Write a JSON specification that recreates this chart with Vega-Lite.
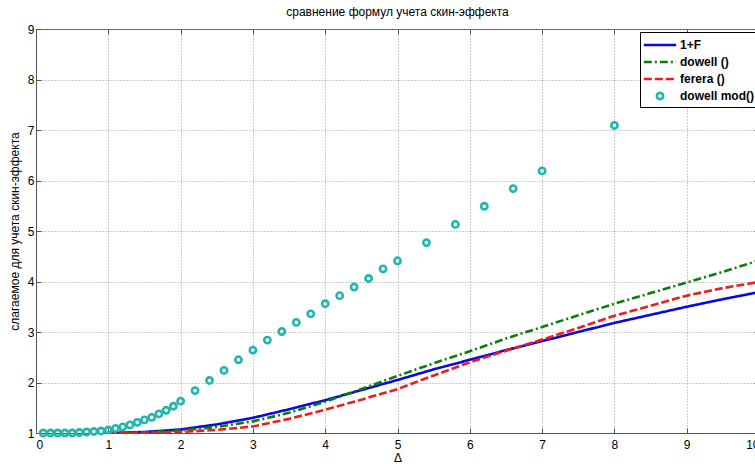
{
  "$schema": "https://vega.github.io/schema/vega-lite/v6.json",
  "autosize": {"type": "none"},
  "padding": {"left": 36, "top": 29, "right": 0, "bottom": 30},
  "width": 723,
  "height": 404,
  "background": "white",
  "title": {"text": "сравнение формул учета скин-эффекта", "fontSize": 12, "fontWeight": "normal", "font": "Liberation Sans", "offset": 4, "anchor": "middle", "color": "black"},
  "config": {
    "font": "Liberation Sans",
    "view": {"stroke": "#555", "strokeWidth": 1},
    "axis": {
      "domainColor": "#555", "tickColor": "#555", "tickSize": -5,
      "gridColor": "#999", "gridDash": [1, 2], "gridWidth": 1,
      "labelFont": "Liberation Sans", "labelFontSize": 12, "labelColor": "black",
      "titleFont": "Liberation Sans", "titleFontSize": 12, "titleFontWeight": "normal", "titleColor": "black"
    },
    "legend": {
      "orient": "top-right", "offset": 3,
      "strokeColor": "black", "fillColor": "white", "padding": 2,
      "rowPadding": 0, "symbolOffset": 7, "labelOffset": 9,
      "symbolStrokeWidth": 2.6, "symbolSize": 361,
      "labelFont": "Liberation Sans", "labelFontSize": 12, "labelFontWeight": "bold", "labelColor": "black"
    }
  },
  "data": {"values": [
    {"series": "1+F", "x": 1.0, "y": 1.0},
    {"series": "1+F", "x": 1.5, "y": 1.02},
    {"series": "1+F", "x": 2.0, "y": 1.07},
    {"series": "1+F", "x": 2.5, "y": 1.17},
    {"series": "1+F", "x": 3.0, "y": 1.30},
    {"series": "1+F", "x": 3.5, "y": 1.47},
    {"series": "1+F", "x": 4.0, "y": 1.65},
    {"series": "1+F", "x": 4.5, "y": 1.85},
    {"series": "1+F", "x": 5.0, "y": 2.05},
    {"series": "1+F", "x": 5.5, "y": 2.26},
    {"series": "1+F", "x": 6.0, "y": 2.45},
    {"series": "1+F", "x": 6.5, "y": 2.64},
    {"series": "1+F", "x": 7.0, "y": 2.82},
    {"series": "1+F", "x": 7.5, "y": 3.00},
    {"series": "1+F", "x": 8.0, "y": 3.18},
    {"series": "1+F", "x": 8.5, "y": 3.34},
    {"series": "1+F", "x": 9.0, "y": 3.50},
    {"series": "1+F", "x": 9.5, "y": 3.65},
    {"series": "1+F", "x": 10.0, "y": 3.79},
    {"series": "dowell ()", "x": 1.0, "y": 1.0},
    {"series": "dowell ()", "x": 1.5, "y": 1.01},
    {"series": "dowell ()", "x": 2.0, "y": 1.05},
    {"series": "dowell ()", "x": 2.5, "y": 1.12},
    {"series": "dowell ()", "x": 3.0, "y": 1.23},
    {"series": "dowell ()", "x": 3.5, "y": 1.40},
    {"series": "dowell ()", "x": 4.0, "y": 1.62},
    {"series": "dowell ()", "x": 4.5, "y": 1.87},
    {"series": "dowell ()", "x": 5.0, "y": 2.13},
    {"series": "dowell ()", "x": 5.5, "y": 2.38},
    {"series": "dowell ()", "x": 6.0, "y": 2.62},
    {"series": "dowell ()", "x": 6.5, "y": 2.87},
    {"series": "dowell ()", "x": 7.0, "y": 3.10},
    {"series": "dowell ()", "x": 7.5, "y": 3.33},
    {"series": "dowell ()", "x": 8.0, "y": 3.56},
    {"series": "dowell ()", "x": 8.5, "y": 3.77},
    {"series": "dowell ()", "x": 9.0, "y": 3.98},
    {"series": "dowell ()", "x": 9.5, "y": 4.19},
    {"series": "dowell ()", "x": 10.0, "y": 4.42},
    {"series": "ferera ()", "x": 1.0, "y": 1.0},
    {"series": "ferera ()", "x": 1.5, "y": 1.005},
    {"series": "ferera ()", "x": 2.0, "y": 1.02},
    {"series": "ferera ()", "x": 2.5, "y": 1.06},
    {"series": "ferera ()", "x": 3.0, "y": 1.13},
    {"series": "ferera ()", "x": 3.5, "y": 1.28},
    {"series": "ferera ()", "x": 4.0, "y": 1.46},
    {"series": "ferera ()", "x": 4.5, "y": 1.66},
    {"series": "ferera ()", "x": 5.0, "y": 1.87},
    {"series": "ferera ()", "x": 5.5, "y": 2.14},
    {"series": "ferera ()", "x": 6.0, "y": 2.40},
    {"series": "ferera ()", "x": 6.5, "y": 2.63},
    {"series": "ferera ()", "x": 7.0, "y": 2.85},
    {"series": "ferera ()", "x": 7.5, "y": 3.08},
    {"series": "ferera ()", "x": 8.0, "y": 3.32},
    {"series": "ferera ()", "x": 8.5, "y": 3.52},
    {"series": "ferera ()", "x": 9.0, "y": 3.72},
    {"series": "ferera ()", "x": 9.5, "y": 3.87},
    {"series": "ferera ()", "x": 10.0, "y": 3.99},
    {"series": "dowell mod()", "x": 0.1, "y": 1.0},
    {"series": "dowell mod()", "x": 0.2, "y": 1.0},
    {"series": "dowell mod()", "x": 0.3, "y": 1.0},
    {"series": "dowell mod()", "x": 0.4, "y": 1.0},
    {"series": "dowell mod()", "x": 0.5, "y": 1.0},
    {"series": "dowell mod()", "x": 0.6, "y": 1.01},
    {"series": "dowell mod()", "x": 0.7, "y": 1.02},
    {"series": "dowell mod()", "x": 0.8, "y": 1.03},
    {"series": "dowell mod()", "x": 0.9, "y": 1.04},
    {"series": "dowell mod()", "x": 1.0, "y": 1.06},
    {"series": "dowell mod()", "x": 1.1, "y": 1.09},
    {"series": "dowell mod()", "x": 1.2, "y": 1.12},
    {"series": "dowell mod()", "x": 1.3, "y": 1.16},
    {"series": "dowell mod()", "x": 1.4, "y": 1.21},
    {"series": "dowell mod()", "x": 1.5, "y": 1.26},
    {"series": "dowell mod()", "x": 1.6, "y": 1.31},
    {"series": "dowell mod()", "x": 1.7, "y": 1.38},
    {"series": "dowell mod()", "x": 1.8, "y": 1.45},
    {"series": "dowell mod()", "x": 1.9, "y": 1.53},
    {"series": "dowell mod()", "x": 2.0, "y": 1.63},
    {"series": "dowell mod()", "x": 2.2, "y": 1.84},
    {"series": "dowell mod()", "x": 2.4, "y": 2.04},
    {"series": "dowell mod()", "x": 2.6, "y": 2.24},
    {"series": "dowell mod()", "x": 2.8, "y": 2.45},
    {"series": "dowell mod()", "x": 3.0, "y": 2.64},
    {"series": "dowell mod()", "x": 3.2, "y": 2.84},
    {"series": "dowell mod()", "x": 3.4, "y": 3.01},
    {"series": "dowell mod()", "x": 3.6, "y": 3.19},
    {"series": "dowell mod()", "x": 3.8, "y": 3.36},
    {"series": "dowell mod()", "x": 4.0, "y": 3.56},
    {"series": "dowell mod()", "x": 4.2, "y": 3.72},
    {"series": "dowell mod()", "x": 4.4, "y": 3.89},
    {"series": "dowell mod()", "x": 4.6, "y": 4.06},
    {"series": "dowell mod()", "x": 4.8, "y": 4.25},
    {"series": "dowell mod()", "x": 5.0, "y": 4.41},
    {"series": "dowell mod()", "x": 5.4, "y": 4.77},
    {"series": "dowell mod()", "x": 5.8, "y": 5.13},
    {"series": "dowell mod()", "x": 6.2, "y": 5.49},
    {"series": "dowell mod()", "x": 6.6, "y": 5.84},
    {"series": "dowell mod()", "x": 7.0, "y": 6.19},
    {"series": "dowell mod()", "x": 8.0, "y": 7.09}
  ]},
  "layer": [
    {
      "transform": [{"filter": "datum.series !== 'dowell mod()'"}],
      "mark": {"type": "line", "strokeWidth": 2.6, "clip": true},
      "encoding": {
        "x": {"field": "x", "type": "quantitative", "title": "Δ",
          "scale": {"domain": [0, 10], "nice": false, "zero": false},
          "axis": {"orient": "bottom", "values": [0,1,2,3,4,5,6,7,8,9,10], "format": "d", "labelPadding": 11, "titlePadding": 2}},
        "y": {"field": "y", "type": "quantitative", "title": "слагаемое для учета скин-эффекта",
          "scale": {"domain": [1, 9], "nice": false, "zero": false},
          "axis": {"orient": "left", "values": [1,2,3,4,5,6,7,8,9], "format": "d", "labelPadding": 7, "titlePadding": 6}},
        "color": {"field": "series", "type": "nominal", "title": null,
          "scale": {"domain": ["1+F", "dowell ()", "ferera ()", "dowell mod()"], "range": ["#0a0adf", "#0b7d0b", "#ee1c1c", "#22b5ae"]}},
        "strokeDash": {"field": "series", "type": "nominal", "title": null,
          "scale": {"domain": ["1+F", "dowell ()", "ferera ()", "dowell mod()"], "range": [[1, 0], [8, 3, 2, 3], [8, 3], [1, 0]]}},
        "detail": {"field": "series"}
      }
    },
    {
      "transform": [{"filter": "datum.series === 'dowell mod()'"}],
      "mark": {"type": "point", "filled": false, "strokeWidth": 2.6, "size": 361, "opacity": 1},
      "encoding": {
        "x": {"field": "x", "type": "quantitative", "title": null,
          "scale": {"domain": [0, 10], "nice": false, "zero": false},
          "axis": {"orient": "top", "values": [0,1,2,3,4,5,6,7,8,9,10], "labels": false, "grid": false, "domain": false}},
        "y": {"field": "y", "type": "quantitative", "title": null,
          "scale": {"domain": [1, 9], "nice": false, "zero": false},
          "axis": {"orient": "right", "values": [1,2,3,4,5,6,7,8,9], "labels": false, "grid": false, "domain": false}},
        "color": {"field": "series", "type": "nominal", "title": null,
          "scale": {"domain": ["1+F", "dowell ()", "ferera ()", "dowell mod()"], "range": ["#0a0adf", "#0b7d0b", "#ee1c1c", "#22b5ae"]}},
        "shape": {"field": "series", "type": "nominal", "title": null,
          "scale": {"domain": ["1+F", "dowell ()", "ferera ()", "dowell mod()"], "range": ["M -1.7,0 L 1.7,0", "M -1.7,0 L 1.7,0", "M -1.7,0 L 1.7,0", "M -0.33,0 A 0.33,0.33 0 1,1 0.33,0 A 0.33,0.33 0 1,1 -0.33,0 Z"]}}
      }
    }
  ],
  "resolve": {"legend": {"color": "shared"}, "axis": {"x": "independent", "y": "independent"}}
}
